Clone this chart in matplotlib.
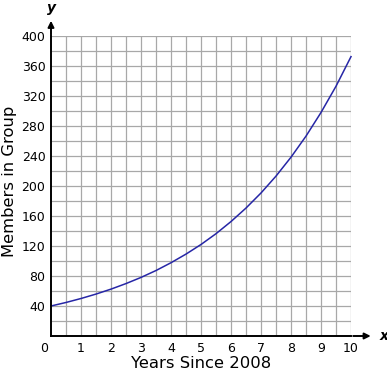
import matplotlib
matplotlib.use("Agg")
import matplotlib.pyplot as plt
import numpy as np

# members every half year
years = [0, 0.5, 1, 1.5, 2, 2.5, 3, 3.5, 4, 4.5, 5, 5.5, 6, 6.5, 7, 7.5, 8, 8.5, 9, 9.5, 10]
members = [40, 44.7, 50, 55.9, 62.5, 69.9, 78.1, 87.3, 97.7, 109.2, 122, 136.4,
           152.6, 170.6, 190.7, 213.2, 238.4, 266.5, 298, 333, 372.5]

x_ticks = [1, 2, 3, 4, 5, 6, 7, 8, 9, 10]
y_ticks = [40, 80, 120, 160, 200, 240, 280, 320, 360, 400]

W, H = 387, 371
fig = plt.figure(figsize=(W / 100, H / 100), dpi=100)
ax = fig.add_axes([51 / W, (H - 336) / H, 300 / W, 300 / H])

ax.set_xlim(0, 10)
ax.set_ylim(0, 400)

# grid
for gx in np.arange(0.5, 10.01, 0.5):
    ax.axvline(gx, color="#a8a8a8", lw=0.9, zorder=1)
for gy in np.arange(20, 400.1, 20):
    ax.axhline(gy, color="#a8a8a8", lw=0.9, zorder=1)

ax.plot(years, members, color="#2626a6", lw=1.1, zorder=3, clip_on=False)

for s in ["top", "right"]:
    ax.spines[s].set_visible(False)
for s in ["left", "bottom"]:
    ax.spines[s].set_linewidth(1.4)
    ax.spines[s].set_zorder(4)

ax.set_xticks(x_ticks)
ax.set_yticks(y_ticks)
ax.tick_params(length=0, labelsize=9, pad=4)
ax.set_xticklabels([str(v) for v in x_ticks])
ax.set_yticklabels([str(v) for v in y_ticks])
ax.text(-0.1, -8, "0", ha="right", va="top", fontsize=9)

# axis arrows
ax.annotate("", xy=(0, 424), xytext=(0, 398), xycoords="data",
            arrowprops=dict(arrowstyle="-|>", color="black", lw=1.4,
                            mutation_scale=9), annotation_clip=False)
ax.annotate("", xy=(10.75, 0), xytext=(9.98, 0), xycoords="data",
            arrowprops=dict(arrowstyle="-|>", color="black", lw=1.4,
                            mutation_scale=9), annotation_clip=False)
fig.text(51 / W, 1 - 1 / H, "y", ha="center", va="top", fontsize=10,
         fontstyle="italic", fontweight="bold")
ax.text(10.95, 0, "x", ha="left", va="center", fontsize=10,
        fontstyle="italic", fontweight="bold")

ax.set_xlabel("Years Since 2008", fontsize=11.8, labelpad=1)
fig.text(10 / W, 1 - 181 / H, "Members in Group", rotation=90,
         ha="center", va="center", fontsize=11.8)

fig.savefig("out.png", dpi=100)
